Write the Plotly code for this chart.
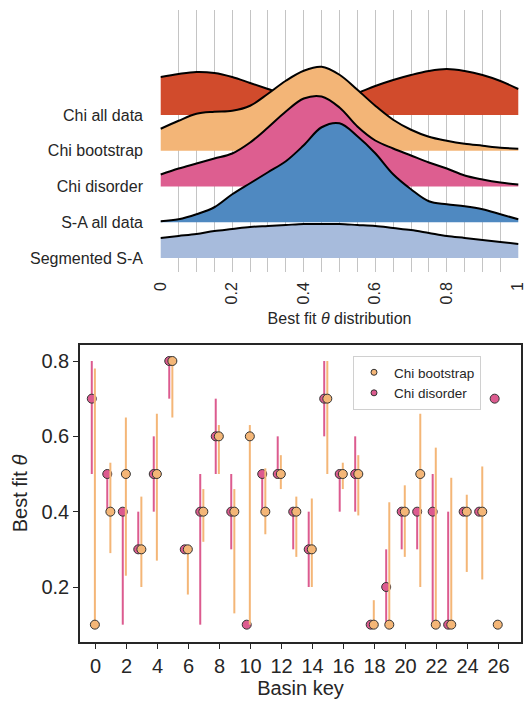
import plotly.graph_objects as go

# ---------------- data ----------------
# Top panel: ridge (KDE) curves of best fit theta, sampled at theta grid
theta = [0.0, 0.05, 0.1, 0.15, 0.2, 0.25, 0.3, 0.35, 0.4, 0.45, 0.5,
         0.55, 0.6, 0.65, 0.7, 0.75, 0.8, 0.85, 0.9, 0.95, 1.0]
ridge_names = ["Chi all data", "Chi bootstrap", "Chi disorder", "S-A all data", "Segmented S-A"]
dens_chi_all = [38, 41, 43, 42, 38, 32, 26, 20, 16, 15, 17, 22, 29, 35, 40, 44, 46, 44, 40, 34, 26]
dens_chi_boot = [22, 30, 37, 39, 40, 45, 57, 70, 80, 84, 76, 61, 45, 31, 21, 14, 10, 7, 5, 3, 2]
dens_chi_dis = [12, 18, 23, 28, 33, 44, 59, 75, 88, 90, 79, 60, 46, 38, 31, 24, 18, 11, 7, 4, 2]
dens_sa_all = [1, 3, 8, 15, 28, 39, 50, 61, 77, 95, 99, 86, 69, 48, 33, 21, 18, 16, 13, 8, 3]
dens_seg_sa = [20, 22, 24, 27, 29, 31, 32, 33, 34, 34, 34, 33, 32, 30, 28, 25, 22, 20, 18, 16, 14]
ridge_dens = [dens_chi_all, dens_chi_boot, dens_chi_dis, dens_sa_all, dens_seg_sa]
ridge_colors = ["#d14b2c", "#f3b577", "#dd5e90", "#4f89c1", "#a7bbdc"]
theta_ticklabels = ["0", "", "", "", "0.2", "", "", "", "0.4", "", "", "", "0.6",
                    "", "", "", "0.8", "", "", "", "1"]

# Bottom panel: best fit theta per basin
basin_key = list(range(27))
dis_val = [0.7, 0.5, 0.4, 0.3, 0.5, 0.8, 0.3, 0.4, 0.6, 0.4, 0.1, 0.5, 0.5, 0.4, 0.3,
           0.7, 0.5, 0.5, 0.1, 0.2, 0.4, 0.4, 0.4, 0.1, 0.4, 0.4, 0.7]
dis_lo = [0.5, 0.4, 0.1, 0.3, 0.4, 0.7, 0.3, 0.1, 0.5, 0.3, 0.1, 0.4, 0.5, 0.3, 0.2,
          0.6, 0.4, 0.4, 0.1, 0.1, 0.3, 0.3, 0.1, 0.1, 0.4, 0.4, 0.7]
dis_hi = [0.8, 0.5, 0.4, 0.4, 0.6, 0.8, 0.3, 0.5, 0.7, 0.5, 0.1, 0.5, 0.6, 0.4, 0.4,
          0.8, 0.5, 0.6, 0.1, 0.3, 0.4, 0.4, 0.5, 0.4, 0.4, 0.4, 0.7]
boot_val = [0.1, 0.4, 0.5, 0.3, 0.5, 0.8, 0.3, 0.4, 0.6, 0.4, 0.6, 0.4, 0.5, 0.4, 0.3,
            0.7, 0.5, 0.5, 0.1, 0.1, 0.4, 0.5, 0.1, 0.1, 0.4, 0.4, 0.1]
boot_lo = [0.1, 0.29, 0.23, 0.2, 0.27, 0.65, 0.18, 0.32, 0.5, 0.13, 0.1, 0.34, 0.46, 0.28, 0.2,
           0.5, 0.46, 0.39, 0.1, 0.1, 0.28, 0.2, 0.1, 0.1, 0.24, 0.22, 0.1]
boot_hi = [0.78, 0.53, 0.65, 0.44, 0.66, 0.8, 0.3, 0.46, 0.63, 0.46, 0.63, 0.515, 0.55, 0.44, 0.435,
           0.8, 0.53, 0.55, 0.165, 0.425, 0.47, 0.66, 0.57, 0.49, 0.445, 0.52, 0.1]
x_ticks = list(range(0, 27, 2))
y_ticks = [0.2, 0.4, 0.6, 0.8]

# ---------------- styling ----------------
FONT = "Liberation Sans, Arial, sans-serif"
TXT = "#262626"
PINK = "#dc5b8f"
ORANGE = "#f4b677"
W, H = 526, 704
spacing = 35.75

fig = go.Figure()

# ridges (top to bottom so that lower ridges overlay upper ones)
n = len(ridge_names)
bases = []
for i, (name, dens, col) in enumerate(zip(ridge_names, ridge_dens, ridge_colors)):
    base = (n - 1 - i) * spacing
    bases.append(base)
    fig.add_trace(go.Scatter(x=[theta[0], theta[-1]], y=[base, base], mode="lines",
                             line=dict(width=0, color="rgba(0,0,0,0)"),
                             hoverinfo="skip", showlegend=False, xaxis="x", yaxis="y"))
    fig.add_trace(go.Scatter(x=theta, y=[base + d for d in dens], mode="lines",
                             line=dict(color="black", width=2, shape="spline", smoothing=1),
                             fill="tonexty", fillcolor=col, name=name,
                             showlegend=False, xaxis="x", yaxis="y"))

# bottom panel: error-bar scatter
dis_x = [k - 0.25 for k in basin_key]
boot_x = [k - 0.05 for k in basin_key]
fig.add_trace(go.Scatter(
    x=dis_x, y=dis_val, mode="markers", name="Chi disorder", showlegend=False,
    marker=dict(size=9, color=PINK, line=dict(color="#333333", width=1)),
    error_y=dict(type="data", symmetric=False,
                 array=[h - v for h, v in zip(dis_hi, dis_val)],
                 arrayminus=[v - l for v, l in zip(dis_val, dis_lo)],
                 width=0, thickness=2, color=PINK),
    xaxis="x2", yaxis="y2"))
fig.add_trace(go.Scatter(
    x=boot_x, y=boot_val, mode="markers", name="Chi bootstrap", showlegend=False,
    marker=dict(size=9, color=ORANGE, line=dict(color="#333333", width=1)),
    error_y=dict(type="data", symmetric=False,
                 array=[h - v for h, v in zip(boot_hi, boot_val)],
                 arrayminus=[v - l for v, l in zip(boot_val, boot_lo)],
                 width=0, thickness=2, color=ORANGE),
    xaxis="x2", yaxis="y2"))
# legend entries (small markers as in the reference)
fig.add_trace(go.Scatter(x=[None], y=[None], mode="markers", name="Chi bootstrap",
                         marker=dict(size=6, color=ORANGE, line=dict(color="#333333", width=1)),
                         xaxis="x2", yaxis="y2"))
fig.add_trace(go.Scatter(x=[None], y=[None], mode="markers", name="Chi disorder",
                         marker=dict(size=6, color=PINK, line=dict(color="#333333", width=1)),
                         xaxis="x2", yaxis="y2"))

fig.update_layout(
    width=W, height=H,
    margin=dict(l=0, r=0, t=0, b=0, autoexpand=False),
    paper_bgcolor="white", plot_bgcolor="white",
    font=dict(family=FONT, color=TXT),
    xaxis=dict(domain=[160 / W, 519 / W], range=[-0.002, 1.002], anchor="y",
               automargin=False, ticklabeloverflow="allow",
               tickvals=theta, ticktext=theta_ticklabels, tickangle=-90,
               ticks="", showgrid=True, gridcolor="#c4c4c4", gridwidth=1,
               zeroline=False, showline=False, tickfont=dict(size=16),
               ticklabelstandoff=6,
               title=dict(text="Best fit <i>θ</i> distribution", font=dict(size=16), standoff=9)),
    yaxis=dict(domain=[1 - 272 / H, 1 - 10 / H], range=[-14, 248], anchor="x",
               automargin=False,
               tickvals=bases, ticktext=ridge_names, ticks="", showgrid=False,
               zeroline=False, showline=False, tickfont=dict(size=16),
               ticklabelstandoff=16),
    xaxis2=dict(domain=[80 / W, 521 / W], range=[-1.01, 27.45], anchor="y2",
                automargin=False,
                tickvals=x_ticks, ticks="outside", ticklen=5, tickwidth=1.3, tickcolor=TXT,
                showline=True, mirror=True, linecolor=TXT, linewidth=1.5,
                showgrid=False, zeroline=False, tickfont=dict(size=20),
                title=dict(text="Basin key", font=dict(size=20), standoff=4)),
    yaxis2=dict(domain=[1 - 642 / H, 1 - 345 / H], range=[0.054, 0.8425], anchor="x2",
                automargin=False,
                tickvals=y_ticks, ticktext=["0.2", "0.4", "0.6", "0.8"],
                ticks="outside", ticklen=5, tickwidth=1.3, tickcolor=TXT,
                showline=True, mirror=True, linecolor=TXT, linewidth=1.5,
                showgrid=False, zeroline=False, tickfont=dict(size=20),
                title=dict(text="Best fit <i>θ</i>", font=dict(size=20), standoff=8)),
    legend=dict(x=353 / W, y=1 - 356 / H, xanchor="left", yanchor="top",
                traceorder="normal",
                bgcolor="white", bordercolor="#d0d0d0", borderwidth=1,
                font=dict(size=13.5, color=TXT), tracegroupgap=0),
    showlegend=True,
)

fig.write_html("out.html", config={"displayModeBar": False},
               post_script="document.body.style.margin='0px';document.body.style.overflow='hidden';")
